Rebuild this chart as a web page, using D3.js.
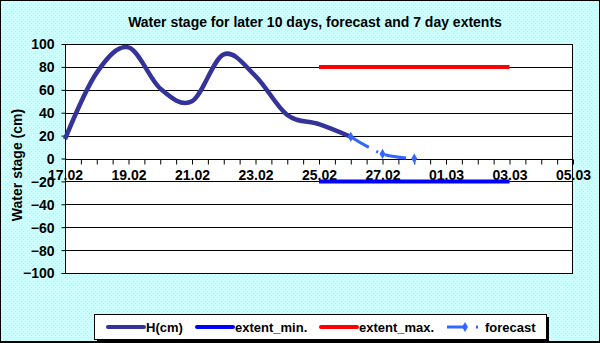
<!DOCTYPE html>
<html>
<head>
<meta charset="utf-8">
<script src="https://cdn.jsdelivr.net/npm/d3@7"></script>
<style>
  body { margin: 0; padding: 0; background: #ffffff; }
  svg { display: block; font-family: Arial, "Liberation Sans", sans-serif; }
</style>
</head>
<body>
<div id="chart"></div>
<script>
// data
const hDates = ['17.02', '18.02', '19.02', '20.02', '21.02', '22.02', '23.02', '24.02', '25.02', '26.02'];
const hValues = [17, 75, 97, 61, 50, 91, 72, 38, 30, 19];

const forecastDates = ['26.02', '27.02', '28.02'];
const forecastValues = [19, 4, 0];

const extentDates = ['25.02', '26.02', '27.02', '28.02', '01.03', '02.03', '03.03'];
const extentMin = [-20, -20, -20, -20, -20, -20, -20];
const extentMax = [80, 80, 80, 80, 80, 80, 80];

const yTicks = [-100, -80, -60, -40, -20, 0, 20, 40, 60, 80, 100];
const legendNames = ['H(cm)', 'extent_min.', 'extent_max.', 'forecast'];

const width = 600;
const height = 343;
const plot = {left: 65, right: 573, top: 44, bottom: 273};

const parseDay = s => {
  const [d, m] = s.split('.').map(Number);
  return new Date(Date.UTC(2013, m - 1, d));
};

const x = d3.scaleUtc()
  .domain([parseDay('17.02'), parseDay('05.03')])
  .range([plot.left, plot.right]);

const y = d3.scaleLinear()
  .domain([-100, 100])
  .range([plot.bottom, plot.top]);

const svg = d3.select('#chart')
  .append('svg')
  .attr('width', width)
  .attr('height', height);

// dotted cyan background like the original
const defs = svg.append('defs');
const pat = defs.append('pattern')
  .attr('id', 'bgdots')
  .attr('width', 4)
  .attr('height', 4)
  .attr('patternUnits', 'userSpaceOnUse');
pat.append('rect').attr('width', 4).attr('height', 4).attr('fill', '#ccffff');
pat.append('rect').attr('x', 1).attr('y', 1).attr('width', 1).attr('height', 1).attr('fill', '#b8ecf0');
pat.append('rect').attr('x', 3).attr('y', 3).attr('width', 1).attr('height', 1).attr('fill', '#bff2f4');

svg.append('rect')
  .attr('x', 0.5).attr('y', 0.5)
  .attr('width', width - 1).attr('height', height - 2)
  .attr('fill', 'url(#bgdots)')
  .attr('stroke', '#000');
svg.append('line')
  .attr('x1', 0).attr('x2', width)
  .attr('y1', height - 1).attr('y2', height - 1)
  .attr('stroke', '#000').attr('stroke-width', 2);

// title
svg.append('text')
  .attr('x', 315)
  .attr('y', 27)
  .attr('text-anchor', 'middle')
  .attr('font-size', '14px')
  .attr('font-weight', 'bold')
  .text('Water stage for later 10 days, forecast and 7 day extents');

// plot area
svg.append('rect')
  .attr('x', plot.left).attr('y', plot.top)
  .attr('width', plot.right - plot.left)
  .attr('height', plot.bottom - plot.top)
  .attr('fill', '#ffffff');

// gridlines
svg.append('g')
  .selectAll('line')
  .data(yTicks)
  .enter()
  .append('line')
  .attr('x1', plot.left)
  .attr('x2', plot.right)
  .attr('y1', d => Math.round(y(d)) + 0.5)
  .attr('y2', d => Math.round(y(d)) + 0.5)
  .attr('stroke', '#000')
  .attr('stroke-width', 1);

svg.append('rect')
  .attr('x', plot.left + 0.5).attr('y', Math.round(plot.top) + 0.5)
  .attr('width', plot.right - plot.left - 1)
  .attr('height', plot.bottom - plot.top)
  .attr('fill', 'none')
  .attr('stroke', '#000');

// y axis
const yAxis = svg.append('g')
  .attr('transform', `translate(${plot.left + 0.5}, 0.5)`)
  .call(d3.axisLeft(y).tickValues(yTicks).tickSize(4).tickPadding(6));
yAxis.select('.domain').remove();
yAxis.selectAll('line').attr('stroke', '#000').attr('transform', 'translate(0,-0.5)');
yAxis.selectAll('text')
  .attr('font-size', '14px')
  .attr('font-weight', 'bold')
  .attr('font-family', 'Arial, "Liberation Sans", sans-serif')
  .attr('fill', '#000')
  .attr('dx', '-1');

svg.append('text')
  .attr('transform', 'translate(22, 165) rotate(-90)')
  .attr('text-anchor', 'middle')
  .attr('font-size', '14px')
  .attr('font-weight', 'bold')
  .text('Water stage (cm)');

// x axis on the zero line, ticks every 12 hours, labels every 2 days
const start = parseDay('17.02');
const xTickValues = d3.utcHour.every(12).range(start, d3.utcHour.offset(parseDay('05.03'), 1));
const fmt = d3.utcFormat('%d.%m');
const xAxis = svg.append('g')
  .attr('transform', `translate(0, ${Math.round(y(0)) + 0.5})`)
  .call(d3.axisBottom(x)
    .tickValues(xTickValues)
    .tickSize(5)
    .tickPadding(6)
    .tickFormat(d => {
      const h = (d - start) / 36e5;
      return h % 48 === 0 ? fmt(d) : '';
    }));
xAxis.select('.domain').attr('stroke', '#000').attr('d', `M${plot.left},0H${plot.right}`);
xAxis.selectAll('line').attr('stroke', '#000');
xAxis.selectAll('text')
  .attr('font-size', '14px')
  .attr('font-weight', 'bold')
  .attr('font-family', 'Arial, "Liberation Sans", sans-serif')
  .attr('fill', '#000');

// series
const smooth = d3.line()
  .x(d => x(parseDay(d[0])))
  .y(d => y(d[1]))
  .curve(d3.curveCardinal.tension(0));

const straight = d3.line()
  .x(d => x(parseDay(d[0])))
  .y(d => y(d[1]));

svg.append('path')
  .datum(d3.zip(extentDates, extentMin))
  .attr('d', straight)
  .attr('fill', 'none')
  .attr('stroke', '#0000ff')
  .attr('stroke-width', 4);

svg.append('path')
  .datum(d3.zip(extentDates, extentMax))
  .attr('d', straight)
  .attr('fill', 'none')
  .attr('stroke', '#ff0000')
  .attr('stroke-width', 4);

svg.append('path')
  .datum(d3.zip(hDates, hValues))
  .attr('d', smooth)
  .attr('fill', 'none')
  .attr('stroke', '#333399')
  .attr('stroke-width', 4.5);

svg.append('path')
  .datum(d3.zip(forecastDates, forecastValues))
  .attr('d', smooth)
  .attr('fill', 'none')
  .attr('stroke', '#3366ff')
  .attr('stroke-width', 3)
  .attr('stroke-dasharray', '21,8,2,8');

const diamond = d3.symbol().type(d3.symbolDiamond).size(30);
svg.append('g')
  .selectAll('path')
  .data(d3.zip(forecastDates, forecastValues))
  .enter()
  .append('path')
  .attr('d', diamond)
  .attr('transform', d => `translate(${x(parseDay(d[0]))}, ${y(d[1])})`)
  .attr('fill', '#3366ff');

// legend
const legend = svg.append('g');
legend.append('rect')
  .attr('x', 97).attr('y', 317)
  .attr('width', 452).attr('height', 25)
  .attr('fill', '#000');
legend.append('rect')
  .attr('x', 94.5).attr('y', 314.5)
  .attr('width', 452).attr('height', 25)
  .attr('fill', '#fff')
  .attr('stroke', '#000');

const legendColors = ['#333399', '#0000ff', '#ff0000', '#3366ff'];
const legendX = [108, 197, 321, 447];
legendNames.forEach((name, i) => {
  const g = legend.append('g').attr('transform', `translate(${legendX[i]}, 327)`);
  if(i == 3){
    g.append('line')
      .attr('x1', 0).attr('x2', 36)
      .attr('stroke', legendColors[i])
      .attr('stroke-width', 3)
      .attr('stroke-dasharray', '20,9,2,20');
    g.append('path')
      .attr('d', diamond)
      .attr('transform', 'translate(18, 0)')
      .attr('fill', legendColors[i]);
  }else{
    g.append('line')
      .attr('x1', 0).attr('x2', 36)
      .attr('stroke', legendColors[i])
      .attr('stroke-width', 4)
      .attr('stroke-linecap', 'round');
  }
  g.append('text')
    .attr('x', 38)
    .attr('y', 5)
    .attr('font-size', '13px')
    .attr('font-weight', 'bold')
    .text(name);
});
</script>
</body>
</html>
